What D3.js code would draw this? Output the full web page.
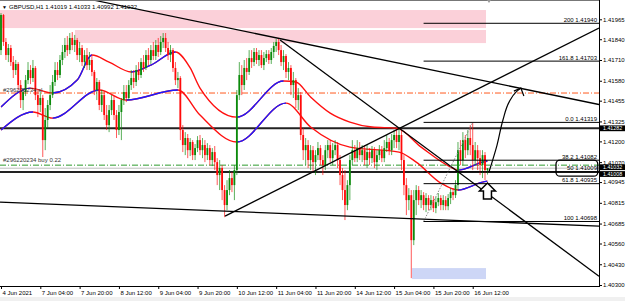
<!DOCTYPE html>
<html><head><meta charset="utf-8">
<script src="https://cdn.jsdelivr.net/npm/d3@7"></script>
<style>body{margin:0;background:#fff;overflow:hidden}svg{display:block;font-family:"Liberation Sans",Arial,sans-serif}</style>
</head><body><svg id="c" width="625" height="301"></svg>
<script>
// ---- data ----
const symbolTitle = "GBPUSD,H1";
const lastOHLC = [1.41019, 1.41033, 1.40992, 1.41032];
const opens = [
1.41772,1.41992,1.41823,1.41741,1.41785,1.41697,1.41647,1.41685,1.41553,1.41459,
1.41509,1.41584,1.41647,1.41597,1.41660,1.41490,1.41428,1.41472,1.41208,1.41334,
1.41428,1.41490,1.41572,1.41647,1.41616,1.41710,1.41760,1.41804,1.41772,1.41848,
1.41804,1.41835,1.41741,1.41785,1.41697,1.41741,1.41678,1.41710,1.41635,1.41522,
1.41572,1.41428,1.41490,1.41365,1.41302,1.41396,1.41459,1.41365,1.41271,1.41384,
1.41459,1.41509,1.41472,1.41553,1.41597,1.41572,1.41647,1.41616,1.41697,1.41660,
1.41741,1.41710,1.41772,1.41735,1.41804,1.41760,1.41823,1.41848,1.41785,1.41741,
1.41772,1.41660,1.41584,1.41597,1.41271,1.41177,1.41221,1.41145,1.41196,1.41114,
1.41158,1.41208,1.41145,1.41177,1.41114,1.41158,1.41083,1.41133,1.41070,1.40989,
1.41033,1.40895,1.40801,1.40895,1.40970,1.40926,1.41020,1.41490,1.41616,1.41553,
1.41660,1.41635,1.41722,1.41697,1.41760,1.41710,1.41741,1.41678,1.41722,1.41747,
1.41710,1.41760,1.41798,1.41823,1.41772,1.41697,1.41735,1.41635,1.41660,1.41553,
1.41584,1.41459,1.41490,1.41240,1.41145,1.41177,1.41083,1.41145,1.41070,1.41114,
1.41158,1.41083,1.41051,1.41145,1.41177,1.41095,1.41145,1.41177,1.41083,1.40989,
1.40895,1.40801,1.40926,1.41083,1.41145,1.41095,1.41158,1.41114,1.41145,1.41083,
1.41133,1.41095,1.41145,1.41070,1.41114,1.41145,1.41095,1.41158,1.41196,1.41145,
1.41208,1.41240,1.41196,1.41240,1.41083,1.40926,1.40832,1.40863,1.40581,1.40832,
1.40895,1.40832,1.40863,1.40801,1.40845,1.40801,1.40832,1.40782,1.40819,1.40845,
1.40801,1.40832,1.40794,1.40845,1.40882,1.40863,1.40926,1.41145,1.41083,1.41208,
1.41145,1.41221,1.41177,1.41083,1.41145,1.41095,1.41051,1.41114,1.41019];
const highs = [
1.42004,1.41998,1.41848,1.41810,1.41804,1.41735,1.41710,1.41697,1.41584,1.41534,
1.41616,1.41697,1.41678,1.41710,1.41672,1.41522,1.41509,1.41490,1.41409,1.41459,
1.41553,1.41616,1.41697,1.41697,1.41741,1.41804,1.41848,1.41860,1.41879,1.41885,
1.41867,1.41848,1.41823,1.41804,1.41772,1.41785,1.41760,1.41741,1.41647,1.41597,
1.41584,1.41522,1.41509,1.41428,1.41428,1.41490,1.41484,1.41396,1.41428,1.41472,
1.41553,1.41553,1.41584,1.41647,1.41647,1.41678,1.41697,1.41722,1.41741,1.41772,
1.41785,1.41804,1.41823,1.41835,1.41848,1.41860,1.41879,1.41879,1.41823,1.41804,
1.41785,1.41697,1.41635,1.41609,1.41302,1.41258,1.41246,1.41221,1.41208,1.41183,
1.41233,1.41240,1.41221,1.41208,1.41189,1.41177,1.41158,1.41171,1.41095,1.41083,
1.41051,1.40926,1.40957,1.41020,1.41008,1.41051,1.41522,1.41697,1.41678,1.41710,
1.41722,1.41772,1.41772,1.41785,1.41785,1.41772,1.41772,1.41760,1.41772,1.41772,
1.41785,1.41823,1.41841,1.41848,1.41804,1.41772,1.41747,1.41697,1.41678,1.41635,
1.41597,1.41534,1.41509,1.41283,1.41221,1.41208,1.41177,1.41171,1.41145,1.41196,
1.41177,1.41114,1.41177,1.41208,1.41208,1.41189,1.41208,1.41196,1.41114,1.41033,
1.41020,1.40957,1.41114,1.41208,1.41177,1.41208,1.41196,1.41177,1.41177,1.41177,
1.41158,1.41171,1.41164,1.41145,1.41177,1.41171,1.41208,1.41240,1.41221,1.41246,
1.41271,1.41283,1.41283,1.41271,1.41114,1.40970,1.40907,1.40895,1.40895,1.40926,
1.40920,1.40895,1.40882,1.40876,1.40863,1.40863,1.40857,1.40851,1.40876,1.40863,
1.40863,1.40857,1.40870,1.40907,1.40907,1.40957,1.41196,1.41208,1.41258,1.41240,
1.41271,1.41302,1.41315,1.41196,1.41177,1.41145,1.41145,1.41133,1.41033];
const lows = [
1.41741,1.41798,1.41710,1.41697,1.41672,1.41597,1.41616,1.41522,1.41409,1.41396,
1.41484,1.41559,1.41559,1.41572,1.41459,1.41352,1.41384,1.41102,1.41145,1.41283,
1.41396,1.41472,1.41547,1.41584,1.41597,1.41678,1.41722,1.41735,1.41747,1.41772,
1.41760,1.41710,1.41697,1.41672,1.41660,1.41647,1.41647,1.41609,1.41490,1.41459,
1.41396,1.41384,1.41334,1.41271,1.41258,1.41365,1.41334,1.41221,1.41240,1.41208,
1.41428,1.41446,1.41459,1.41522,1.41534,1.41547,1.41584,1.41597,1.41635,1.41647,
1.41678,1.41685,1.41710,1.41710,1.41729,1.41741,1.41785,1.41760,1.41710,1.41697,
1.41635,1.41553,1.41534,1.41208,1.41133,1.41114,1.41095,1.41108,1.41083,1.41083,
1.41133,1.41114,1.41095,1.41070,1.41083,1.41051,1.41045,1.41020,1.40926,1.40895,
1.40832,1.40725,1.40769,1.40863,1.40882,1.40832,1.40989,1.41459,1.41490,1.41522,
1.41584,1.41616,1.41660,1.41672,1.41685,1.41672,1.41660,1.41647,1.41697,1.41685,
1.41685,1.41722,1.41760,1.41741,1.41672,1.41647,1.41597,1.41584,1.41490,1.41472,
1.41409,1.41396,1.41208,1.41083,1.41051,1.41033,1.41020,1.41008,1.40989,1.41083,
1.41051,1.40989,1.41020,1.41095,1.41070,1.41051,1.41114,1.41033,1.40926,1.40832,
1.40707,1.40769,1.40832,1.41051,1.41070,1.41070,1.41083,1.41070,1.41051,1.41033,
1.41051,1.41064,1.41033,1.41020,1.41083,1.41070,1.41070,1.41133,1.41114,1.41114,
1.41158,1.41158,1.41145,1.41020,1.40863,1.40738,1.40769,1.40343,1.40550,1.40738,
1.40801,1.40782,1.40769,1.40757,1.40769,1.40769,1.40757,1.40750,1.40794,1.40769,
1.40769,1.40769,1.40769,1.40807,1.40832,1.40845,1.40895,1.41051,1.41051,1.41095,
1.41114,1.41114,1.41020,1.41051,1.41020,1.40989,1.40970,1.40957,1.40992];
const closes = [
1.41992,1.41823,1.41741,1.41785,1.41697,1.41647,1.41685,1.41553,1.41459,1.41509,
1.41584,1.41647,1.41597,1.41660,1.41490,1.41428,1.41472,1.41208,1.41334,1.41428,
1.41490,1.41572,1.41647,1.41616,1.41710,1.41760,1.41804,1.41772,1.41848,1.41804,
1.41835,1.41741,1.41785,1.41697,1.41741,1.41678,1.41710,1.41635,1.41522,1.41572,
1.41428,1.41490,1.41365,1.41302,1.41396,1.41459,1.41365,1.41271,1.41384,1.41459,
1.41509,1.41472,1.41553,1.41597,1.41572,1.41647,1.41616,1.41697,1.41660,1.41741,
1.41710,1.41772,1.41735,1.41804,1.41760,1.41823,1.41848,1.41785,1.41741,1.41772,
1.41660,1.41584,1.41597,1.41271,1.41177,1.41221,1.41145,1.41196,1.41114,1.41158,
1.41208,1.41145,1.41177,1.41114,1.41158,1.41083,1.41133,1.41070,1.40989,1.41033,
1.40895,1.40801,1.40895,1.40970,1.40926,1.41020,1.41490,1.41616,1.41553,1.41660,
1.41635,1.41722,1.41697,1.41760,1.41710,1.41741,1.41678,1.41722,1.41747,1.41710,
1.41760,1.41798,1.41823,1.41772,1.41697,1.41735,1.41635,1.41660,1.41553,1.41584,
1.41459,1.41490,1.41240,1.41145,1.41177,1.41083,1.41145,1.41070,1.41114,1.41158,
1.41083,1.41051,1.41145,1.41177,1.41095,1.41145,1.41177,1.41083,1.40989,1.40895,
1.40801,1.40926,1.41083,1.41145,1.41095,1.41158,1.41114,1.41145,1.41083,1.41133,
1.41095,1.41145,1.41070,1.41114,1.41145,1.41095,1.41158,1.41196,1.41145,1.41208,
1.41240,1.41196,1.41240,1.41083,1.40926,1.40832,1.40863,1.40581,1.40832,1.40895,
1.40832,1.40863,1.40801,1.40845,1.40801,1.40832,1.40782,1.40819,1.40845,1.40801,
1.40832,1.40794,1.40845,1.40882,1.40863,1.40926,1.41145,1.41083,1.41208,1.41145,
1.41221,1.41177,1.41083,1.41145,1.41095,1.41051,1.41114,1.41020,1.41032];

const xTickBars = [0,16,32,48,64,80,96,112,128,144,160,176,192];
const xTickLabels = ["4 Jun 2021","7 Jun 04:00","7 Jun 20:00","8 Jun 12:00","9 Jun 04:00","9 Jun 20:00","10 Jun 12:00","11 Jun 04:00","11 Jun 20:00","14 Jun 12:00","15 Jun 04:00","15 Jun 20:00","16 Jun 12:00"];
const yTicks = [1.41965,1.41840,1.41710,1.41580,1.41455,1.41325,1.41200,1.41070,1.40945,1.40815,1.40685,1.40560,1.40430,1.40300];

// moving-average channel (upper / lower), read at sample bars
const maUpperBars = [0,12,21,31,37,44,53,61,71,77,81,96,115,120,126,134,142,151,161,171,183,186,196,198];
const maUpperVals = [1.41415,1.41534,1.41503,1.41584,1.41741,1.41697,1.41635,1.41678,1.41760,1.41660,1.41534,1.41352,1.41578,1.41572,1.41478,1.41377,1.41321,1.41290,1.41283,1.41164,1.41039,1.41020,1.41070,1.41077];
const maLowerBars = [0,13,21,40,51,72,81,96,116,126,142,162,169,179,186,196,198];
const maLowerVals = [1.41271,1.41384,1.41346,1.41522,1.41459,1.41522,1.41365,1.41196,1.41440,1.41290,1.41164,1.41133,1.41070,1.40939,1.40895,1.40945,1.40951];

// zones (bar range, price range)
const zoneBarFrom = [-0.4, 30.1, 167.3];
const zoneBarTo = [197.4, 197.4, 197.4];
const zoneTop = [1.42023, 1.41898, 1.40406];
const zoneBottom = [1.41910, 1.41816, 1.40337];

// trend lines: [bar, price] pairs
const trendStartBar = [38.3, 113.6, 91.2, -0.4];
const trendStartPrice = [1.42083, 1.41835, 1.40732, 1.40819];
const trendEndBar = [243.4, 243.4, 243.4, 243.4];
const trendEndPrice = [1.41431, 1.40355, 1.41910, 1.40669];

// horizontal levels
const supportLevels = [1.41282, 1.41008];
const bidPrice = 1.41032;
const slPrice = 1.41503;
const buyPrice = 1.41051;
const orderTicket = "#296220234";
const buyLots = 0.22;

// fibonacci
const fibRatios = ["0.0","38.2","50","61.8","100","161.8","200"];
const fibPrices = [1.41319,1.41082,1.41009,1.40935,1.40698,1.41703,1.41940];
const fibAnchorBars = [172, 192];
const fibAnchorPrices = [1.40698, 1.41319];

// drawn arrow path and marker
const arrowBars = [198.6,201.9,204.3,206.8,209.6,211.6];
const arrowPrices = [1.41008,1.41177,1.41334,1.41446,1.41509,1.41534];
const markerBar = 198.0, markerPrice = 1.40939;
const boxBars = [225.9, 242.9], boxPrices = [1.41083, 1.40982];

// ---- drawing ----
const svg = d3.select('#c');
const PR = 599, PB = 286;
const x = d3.scaleLinear().domain([0, 243.4]).range([1, 599]);
const y = d3.scaleLinear().domain([1.40300, 1.41965]).range([285, 19.3]);
const defs = svg.append('defs');
defs.append('clipPath').attr('id','plot').append('rect').attr('x',0).attr('y',0).attr('width',PR).attr('height',PB);

svg.append('rect').attr('width',625).attr('height',301).attr('fill','#fff');
svg.append('rect').attr('x',0).attr('y',297).attr('width',625).attr('height',4).attr('fill','#f0f0f0');

const g = svg.append('g').attr('clip-path','url(#plot)');

// zones
const zoneColors = ['#fbd0d9','#fbd0d9','#cdd6f6'];
zoneTop.forEach((t,i)=>{
  g.append('rect').attr('x',x(zoneBarFrom[i])).attr('y',y(t))
   .attr('width',x(zoneBarTo[i])-x(zoneBarFrom[i])).attr('height',y(zoneBottom[i])-y(t))
   .attr('fill',zoneColors[i]);
});

// horizontal lines
g.append('line').attr('x1',0).attr('x2',PR).attr('y1',y(slPrice)).attr('y2',y(slPrice))
 .attr('stroke','#ff5a1e').attr('stroke-width',1).attr('stroke-dasharray','6,2,1,2');
g.append('line').attr('x1',0).attr('x2',PR).attr('y1',y(buyPrice)).attr('y2',y(buyPrice))
 .attr('stroke','#2e9a2e').attr('stroke-width',1).attr('stroke-dasharray','6,2,1,2');
g.append('line').attr('x1',0).attr('x2',PR).attr('y1',y(bidPrice)).attr('y2',y(bidPrice))
 .attr('stroke','#bdbdbd').attr('stroke-width',1);
supportLevels.forEach(p=>{
  g.append('line').attr('x1',0).attr('x2',PR).attr('y1',y(p)).attr('y2',y(p))
   .attr('stroke','#222').attr('stroke-width',2);
});

// MA channel
function drawMA(bars, vals){
  const pts = bars.map((b,i)=>[x(b), y(vals[i])]);
  const line = d3.line().curve(d3.curveMonotoneX);
  g.append('path').attr('d',line(pts)).attr('fill','none').attr('stroke','#ff1010').attr('stroke-width',1.4);
  for(let i=0;i<bars.length-1;i++){
    if(vals[i+1] > vals[i]){
      const id = 'c'+i+'_'+bars.length;
      defs.append('clipPath').attr('id',id).append('rect')
        .attr('x',pts[i][0]).attr('y',0).attr('width',pts[i+1][0]-pts[i][0]).attr('height',PB);
      g.append('g').attr('clip-path','url(#'+id+')').append('path').attr('d',line(pts))
        .attr('fill','none').attr('stroke','#1a1aff').attr('stroke-width',1.4);
    }
  }
}
drawMA(maUpperBars, maUpperVals);
drawMA(maLowerBars, maLowerVals);

// candles
const up = '#0b8a0b', dn = '#ff0a0a';
opens.forEach((o,i)=>{
  const c = closes[i], col = c >= o ? up : dn, cx = x(i);
  g.append('line').attr('x1',cx).attr('x2',cx).attr('y1',y(highs[i])).attr('y2',y(lows[i]))
    .attr('stroke',col).attr('stroke-width',0.9).attr('opacity',0.75);
  const top = y(Math.max(o,c)), bot = y(Math.min(o,c));
  g.append('rect').attr('x',cx-0.9).attr('y',top).attr('width',1.8).attr('height',Math.max(1,bot-top)).attr('fill',col);
});

// trend lines
trendStartBar.forEach((b,i)=>{
  g.append('line').attr('x1',x(b)).attr('y1',y(trendStartPrice[i]))
   .attr('x2',x(trendEndBar[i])).attr('y2',y(trendEndPrice[i]))
   .attr('stroke','#000').attr('stroke-width',1.3);
});

// fibonacci
g.append('line').attr('x1',x(fibAnchorBars[0])).attr('y1',y(fibAnchorPrices[0]))
 .attr('x2',x(fibAnchorBars[1])).attr('y2',y(fibAnchorPrices[1]))
 .attr('stroke','#888').attr('stroke-width',1).attr('stroke-dasharray','1.5,1.5');
fibPrices.forEach((p,i)=>{
  g.append('line').attr('x1',x(fibAnchorBars[0])).attr('x2',PR).attr('y1',y(p)).attr('y2',y(p))
   .attr('stroke','#000').attr('stroke-width',1);
  g.append('text').attr('x',597).attr('y',y(p)-1.5).attr('text-anchor','end')
   .attr('font-size',6).attr('fill','#000').text(fibRatios[i]+' '+d3.format('.5f')(p));
});

// rounded box
g.append('rect').attr('x',x(boxBars[0])).attr('y',y(boxPrices[0])).attr('rx',4)
 .attr('width',x(boxBars[1])-x(boxBars[0])).attr('height',y(boxPrices[1])-y(boxPrices[0]))
 .attr('fill','none').attr('stroke','#000').attr('stroke-width',1.3);

// drawn arrow
const ap = arrowBars.map((b,i)=>[x(b), y(arrowPrices[i])]);
g.append('path').attr('d',d3.line().curve(d3.curveMonotoneY)(ap)).attr('fill','none').attr('stroke','#000').attr('stroke-width',1.2);
const tip = ap[ap.length-1];
g.append('path').attr('d',`M${tip[0]-7},${tip[1]+3}L${tip[0]},${tip[1]}L${tip[0]+3},${tip[1]+8}`)
 .attr('fill','none').attr('stroke','#000').attr('stroke-width',1.2);

// hollow up-arrow marker
const mx = x(markerBar), my = y(markerPrice);
g.append('path').attr('d',`M${mx},${my}L${mx+8},${my+8}L${mx+4},${my+8}L${mx+4},${my+16}L${mx-4},${my+16}L${mx-4},${my+8}L${mx-8},${my+8}Z`)
 .attr('fill','#fff').attr('stroke','#000').attr('stroke-width',1.5);

// order texts
g.append('text').attr('x',3).attr('y',y(slPrice)-1.5).attr('font-size',6).attr('fill','#333').text(orderTicket+' sl');
g.append('text').attr('x',3).attr('y',y(buyPrice)-3).attr('font-size',6).attr('fill','#333').text(orderTicket+' buy '+buyLots.toFixed(2));

// frame
svg.append('line').attr('x1',0).attr('x2',PR).attr('y1',0.5).attr('y2',0.5).attr('stroke','#777');
svg.append('path').attr('d','M487,0L491,0L489,3Z').attr('fill','#999');

// axes
const ya = svg.append('g').attr('transform',`translate(${PR},0)`)
 .call(d3.axisRight(y).tickValues(yTicks).tickSize(3).tickSizeOuter(0).tickFormat(d3.format('.5f')));
ya.select('.domain').remove();
ya.selectAll('text').attr('font-size',6).attr('font-family','Liberation Sans, Arial, sans-serif').attr('x',4).attr('fill','#000');
ya.selectAll('line').attr('stroke','#000');
svg.append('line').attr('x1',PR+0.5).attr('x2',PR+0.5).attr('y1',0).attr('y2',PB).attr('stroke','#000');

const xa = svg.append('g').attr('transform',`translate(0,${PB})`)
 .call(d3.axisBottom(x).tickValues(xTickBars).tickSize(3).tickSizeOuter(0).tickFormat((d,i)=>xTickLabels[i]));
xa.select('.domain').remove();
xa.selectAll('text').attr('font-size',6).attr('font-family','Liberation Sans, Arial, sans-serif').attr('text-anchor','start').attr('x',1).attr('y',5).attr('fill','#000');
xa.selectAll('line').attr('stroke','#000');
svg.append('line').attr('x1',0).attr('x2',PR+1).attr('y1',PB+0.5).attr('y2',PB+0.5).attr('stroke','#000');

// price tags on axis (stacked so they do not overlap)
const tagPrices = [supportLevels[0], bidPrice, supportLevels[1]];
const tagOffsets = [0, -1, 2];
tagPrices.forEach((p,i)=>{
  const cy = y(p) + tagOffsets[i];
  svg.append('rect').attr('x',PR+1).attr('y',cy-2.9).attr('width',25).attr('height',5.8).attr('fill','#000');
  svg.append('text').attr('x',PR+4).attr('y',cy+1.9).attr('font-size',5.3).attr('fill','#fff').text(d3.format('.5f')(p));
});

// title
svg.append('text').attr('x',2).attr('y',9).attr('font-size',5).attr('fill','#000').text('▼');
svg.append('text').attr('x',9).attr('y',9).attr('font-size',6).attr('fill','#000')
 .text(symbolTitle+'  '+lastOHLC.map(d3.format('.5f')).join(' '));
</script></body></html>
